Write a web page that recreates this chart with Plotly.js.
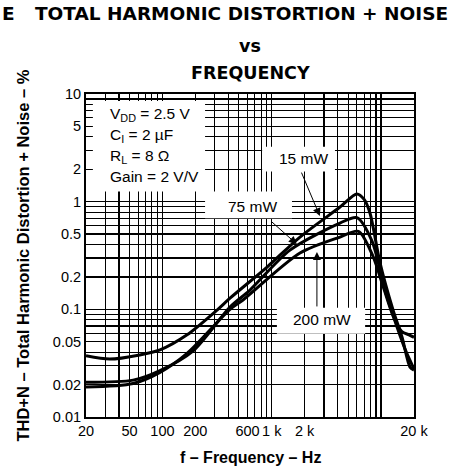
<!DOCTYPE html>
<html>
<head>
<meta charset="utf-8">
<script src="https://cdn.plot.ly/plotly-3.0.1.min.js"></script>
<style>html,body{margin:0;padding:0;background:#fff;}#chart{width:450px;height:468px;}</style>
</head>
<body>
<div id="chart"></div>
<script>
// ---- data ----
const freq15 = [20, 33, 62, 95, 168, 316, 415, 906, 1812, 4210, 6000, 7000, 7925, 9780, 12860, 15530, 18380, 20000];
const thd15  = [0.037, 0.0345, 0.0377, 0.042, 0.058, 0.0985, 0.127, 0.247, 0.469, 0.891, 1.18, 1.05, 0.78, 0.27, 0.0985, 0.0553, 0.0291, 0.0273];

const freq75 = [20, 54, 95, 190, 415, 632, 1468, 4210, 6000, 8260, 10870, 13990, 17000, 20000];
const thd75  = [0.021, 0.022, 0.027, 0.041, 0.105, 0.151, 0.355, 0.633, 0.71, 0.43, 0.15, 0.0685, 0.04, 0.028];

const freq200 = [20, 54, 95, 168, 415, 546, 1812, 4210, 6200, 8440, 10500, 13000, 15500, 18000, 20000];
const thd200  = [0.019, 0.0205, 0.026, 0.039, 0.100, 0.122, 0.333, 0.469, 0.53, 0.31, 0.16, 0.085, 0.062, 0.058, 0.055];

const seriesNames = ['15 mW', '75 mW', '200 mW'];

const xTickVals = [20, 50, 100, 200, 600, 1000, 2000, 20000];
const xTickText = ['20', '50', '100', '200', '600', '1 k', '2 k', '20 k'];
const yTickVals = [0.01, 0.02, 0.05, 0.1, 0.2, 0.5, 1, 2, 5, 10];
const yTickText = ['0.01', '0.02', '0.05', '0.1', '0.2', '0.5', '1', '2', '5', '10'];

const xGrid = [20,30,40,50,60,70,80,90,100,200,300,400,500,600,700,800,900,1000,2000,3000,4000,5000,6000,7000,8000,9000,10000,20000];
const yGrid = [0.01,0.02,0.03,0.04,0.05,0.06,0.07,0.08,0.09,0.1,0.2,0.3,0.4,0.5,0.6,0.7,0.8,0.9,1,2,3,4,5,6,7,8,9,10];

// ---- chart ----
const FONT = 'Liberation Sans, Arial, sans-serif';
const WIDE = 'DejaVu Sans, Liberation Sans, sans-serif';
const lineStyle = {color: '#000', width: 3, shape: 'spline', smoothing: 0.8};
const traces = [
  {x: freq15, y: thd15, name: seriesNames[0]},
  {x: freq75, y: thd75, name: seriesNames[1]},
  {x: freq200, y: thd200, name: seriesNames[2]}
].map(t => Object.assign(t, {type: 'scatter', mode: 'lines', line: lineStyle, hoverinfo: 'skip'}));

function axisCommon(vals, text, grid) {
  return {
    type: 'log',
    tickmode: 'array', tickvals: vals, ticktext: text, tickangle: 0,
    showgrid: true, gridcolor: '#000', gridwidth: 1.2,
    ticks: 'inside', ticklen: 7, tickwidth: 1, tickcolor: '#000',
    showline: true, linecolor: '#000', linewidth: 2, mirror: 'allticks',
    zeroline: false,
    tickfont: {family: FONT, size: 14.5, color: '#000'},
    minor: {tickmode: 'array', tickvals: grid, showgrid: true, gridcolor: '#000', gridwidth: 1.2,
            ticks: 'inside', ticklen: 4, tickcolor: '#000', tickwidth: 1}
  };
}

const xaxis = axisCommon(xTickVals, xTickText, xGrid);
xaxis.range = [Math.log10(20), Math.log10(20000)];
const yaxis = axisCommon(yTickVals, yTickText, yGrid);
yaxis.range = [Math.log10(0.01), Math.log10(10)];

// white panels behind the text (they sit where no curve passes)
function box(x0, x1, y0, y1) {
  return {type: 'rect', xref: 'x domain', yref: 'y domain', x0, x1, y0, y1,
          fillcolor: '#fff', line: {width: 0}, layer: 'above'};
}

const txt = (text, x, y, opts) => Object.assign({
  text, x, y, xref: 'paper', yref: 'paper', showarrow: false,
  font: {family: FONT, size: 15.5, color: '#000'}, xanchor: 'center', yanchor: 'middle'
}, opts || {});

const arrow = (x, y, ax, ay) => ({
  text: '', x, y, xref: 'paper', yref: 'paper', showarrow: true,
  ax, ay, arrowhead: 2, arrowsize: 1.6, arrowwidth: 1, arrowcolor: '#000'
});

const bold = (s, fam) => ({family: fam || FONT, size: s, color: '#000', weight: 'bold'});

const layout = {
  width: 450, height: 468,
  margin: {l: 86, r: 36, t: 94, b: 51},
  paper_bgcolor: '#fff', plot_bgcolor: '#fff',
  showlegend: false,
  xaxis, yaxis,
  shapes: [
    box(0.021, 0.363, 0.698, 0.978),
    box(0.363, 0.628, 0.615, 0.698),
    box(0.537, 0.759, 0.760, 0.837),
    box(0.582, 0.851, 0.258, 0.338)
  ],
  annotations: [
    txt('E', -0.262, 1.25, {font: bold(18.5, WIDE), xanchor: 'left'}),
    txt('TOTAL HARMONIC DISTORTION + NOISE', 0.475, 1.25, {font: bold(18.5, WIDE)}),
    txt('vs', 0.5, 1.148, {font: bold(17.5, WIDE)}),
    txt('FREQUENCY', 0.5, 1.066, {font: bold(17.5, WIDE)}),
    txt('THD+N \u2013 Total Harmonic Distortion + Noise \u2013 %', -0.195, 0.5, {font: bold(16.5), textangle: -90}),
    txt('f \u2013 Frequency \u2013 Hz', 0.5, -0.125, {font: bold(16)}),
    txt('V<sub>DD</sub> = 2.5 V', 0.067, 0.935, {xanchor: 'left'}),
    txt('C<sub>I</sub> = 2 \u00b5F', 0.067, 0.872, {xanchor: 'left'}),
    txt('R<sub>L</sub> = 8 \u03a9', 0.067, 0.806, {xanchor: 'left'}),
    txt('Gain = 2 V/V', 0.067, 0.745, {xanchor: 'left'}),
    txt(seriesNames[0], 0.662, 0.800),
    txt(seriesNames[1], 0.509, 0.651),
    txt(seriesNames[2], 0.72, 0.303),
    arrow(0.713, 0.622, -19, -45),
    arrow(0.643, 0.535, -27, -24),
    arrow(0.704, 0.511, 0, 56)
  ]
};

Plotly.newPlot('chart', traces, layout, {staticPlot: true, displayModeBar: false});
</script>
</body>
</html>
